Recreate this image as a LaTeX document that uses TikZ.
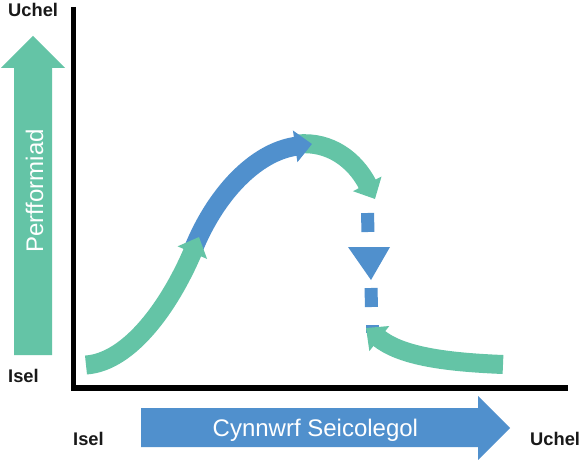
\documentclass[tikz,border=0pt]{standalone}
\usepackage{fontspec}
\setmainfont{Liberation Sans}
\usetikzlibrary{arrows.meta}
\definecolor{pgreen}{RGB}{100,196,166}
\definecolor{pblue}{RGB}{80,144,205}
\begin{document}
\begin{tikzpicture}[x=1pt,y=-1pt,
  band/.style={line width=19pt},
  headtip/.style={-{Triangle[width=31pt,length=17pt]}},
  dashseg/.style={pblue, line width=13pt},
  lbl/.style={font=\bfseries\fontsize{18.3}{22}\selectfont, inner sep=0pt, text=black!90},
  big/.style={font=\fontsize{24}{28}\selectfont, inner sep=0pt, text=white}]
\useasboundingbox (0,0) rectangle (582,460);
\fill[white] (0,0) rectangle (582,460);
% axes
\draw[line width=5.5pt] (73.5,7) -- (73.5,388) -- (568,388);
% vertical arrow
\fill[pgreen] (14,355) -- (14,68) -- (1,68) -- (33,36) -- (65,68) -- (52,68) -- (52,355) -- cycle;
\node[big, rotate=90, anchor=base west] (perf) at (43,253) {Perfformiad};
% horizontal arrow
\fill[pblue] (141,408) -- (478,408) -- (478,396) -- (510,428) -- (478,460) -- (478,447) -- (141,447) -- cycle;
\node[big, anchor=base west] (cyn) at (212.5,436) {Cynnwrf Seicolegol};
% labels
\node[lbl, anchor=base west] (uchtop) at (8,17) {Uchel};
\node[lbl, anchor=base west] (isleft) at (8,382) {Isel};
\node[lbl, anchor=base west] (isbot) at (73,445) {Isel};
\node[lbl, anchor=base west] (uchbot) at (530,445) {Uchel};
% curve arrows
\draw[band, headtip, pgreen] (298,144) .. controls (330,141) and (355,160) .. (375,199);
\draw[band, headtip, pblue] (193,250) .. controls (215,195) and (255,152) .. (312,144);
\draw[band, headtip, pgreen] (86,365) .. controls (130,362) and (170,305) .. (199,237);
% dashed drop
\draw[dashseg] (367.5,213) -- (368,232);
\fill[pblue] (348,247) -- (390,247) -- (371,280) -- cycle;
\draw[dashseg] (371,288) -- (371.5,307);
\draw[dashseg] (372,325) -- (372,333);
\draw[band, headtip, pgreen] (503,364.5) .. controls (440,362) and (400,355) .. (366,328);
\end{tikzpicture}
\end{document}
